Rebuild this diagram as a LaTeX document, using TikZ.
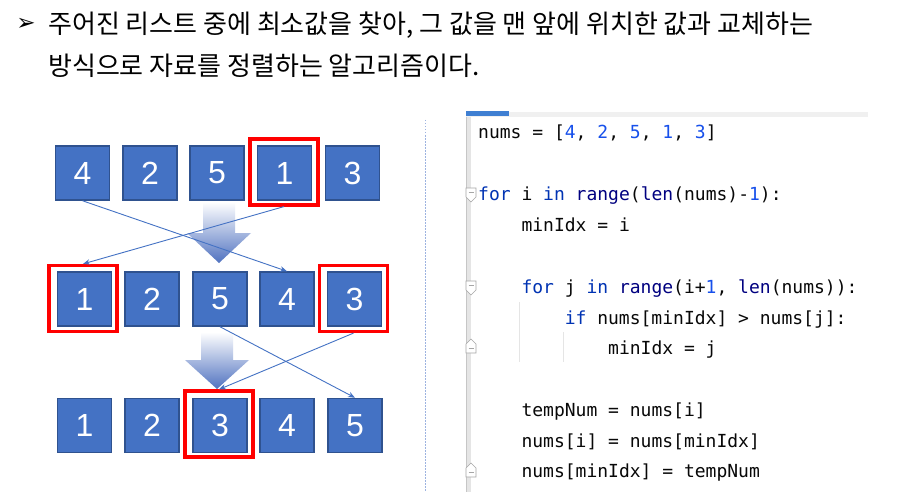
\documentclass[tikz,border=0pt]{standalone}
\usepackage{fontspec}
\setmainfont{Liberation Sans}
\newfontfamily\krfont{Noto Sans CJK KR}
\newfontfamily\djfont{DejaVu Sans}
\newfontfamily\codefont{DejaVu Sans Mono}
\usetikzlibrary{arrows.meta}
\definecolor{boxblue}{HTML}{4472C4}
\definecolor{boxedge}{HTML}{2F528F}
\definecolor{arrowblue}{HTML}{5072C0}
\definecolor{kw}{HTML}{0033B3}
\definecolor{num}{HTML}{1750EB}
\definecolor{bi}{HTML}{000080}
\definecolor{codeblack}{HTML}{080808}
\definecolor{tabblue}{HTML}{3F7FD2}
\definecolor{sepblue}{HTML}{9DB3E0}
\tikzset{
  numbox/.style={draw=boxedge, fill=boxblue, line width=1.5pt, minimum size=54pt, inner sep=0pt, text=white, font=\fontsize{32}{32}\selectfont},
  redframe/.style={draw=red, line width=3.2pt, minimum width=68pt, minimum height=66pt, inner sep=0pt},
  link/.style={draw=boxblue, line width=0.9pt, -{Stealth[length=7pt,width=5.5pt]}},
  bigarrow/.style={top color=white, bottom color=arrowblue, draw=none},
  code/.style={anchor=base west, inner sep=0pt, font=\codefont\fontsize{18}{18}\selectfont, text=codeblack},
  head/.style={anchor=base west, inner sep=0pt, font=\krfont\fontsize{26}{26}\selectfont},
  foldmark/.style={draw=gray!70, fill=white, line width=0.6pt},
}
\newcommand{\kwd}[1]{\textcolor{kw}{#1}}
\newcommand{\nm}[1]{\textcolor{num}{#1}}
\newcommand{\bif}[1]{\textcolor{bi}{#1}}
\begin{document}
\begin{tikzpicture}[x=1pt,y=-1pt]
\useasboundingbox (0,0) rectangle (907,492);
\fill[white] (0,0) rectangle (907,492);
% header
\node[font=\djfont\fontsize{23}{23}\selectfont, inner sep=0pt] (bul) at (26,24.5) {➢};
\node[head] (t1) at (48,34) {주어진 리스트 중에 최소값을 찾아, 그 값을 맨 앞에 위치한 값과 교체하는};
\node[head] (t2) at (48,76) {방식으로 자료를 정렬하는 알고리즘이다.};
% big gradient arrows
\path[bigarrow] (203,202) -- (235,202) -- (235,233) -- (251,233) -- (219,263) -- (187,233) -- (203,233) -- cycle;
\path[bigarrow] (201,332) -- (233,332) -- (233,360) -- (249,360) -- (217,389) -- (185,360) -- (201,360) -- cycle;
% row 1
\node[numbox] (r1a) at (82.5,173) {4};
\node[numbox] (r1b) at (150,173) {2};
\node[numbox] (r1c) at (217,173) {5};
\node[numbox] (r1d) at (284.5,173) {1};
\node[numbox] (r1e) at (352.5,173) {3};
% row 2
\node[numbox] (r2a) at (84.5,299) {1};
\node[numbox] (r2b) at (152,299) {2};
\node[numbox] (r2c) at (220,299) {5};
\node[numbox] (r2d) at (287,299) {4};
\node[numbox] (r2e) at (354.5,299) {3};
% row 3
\node[numbox] (r3a) at (84.5,425.5) {1};
\node[numbox] (r3b) at (152,425.5) {2};
\node[numbox] (r3c) at (220,425.5) {3};
\node[numbox] (r3d) at (287,425.5) {4};
\node[numbox] (r3e) at (355,425.5) {5};
% red frames
\node[redframe] (f1) at (284,172) {};
\node[redframe] (f2) at (83,298.5) {};
\node[redframe] (f3) at (353.5,298.5) {};
\node[redframe] (f4) at (219,424) {};
% swap lines
\draw[link] (r1a.south) -- (r2d.north);
\draw[link] (f1.south) -- (f2.north);
\draw[link] (r2c.south) -- (r3e.north);
\draw[link] (f3.south) -- (f4.north);
% separator
\draw[sepblue, line width=0.8pt, dash pattern=on 1.5pt off 1.5pt] (425,120) -- (425,492);
% code panel chrome
\fill[gray!12] (466,112) rectangle (868,117);
\fill[tabblue] (466,111.5) rectangle (509,116);
\fill[gray!20] (466,117) rectangle (471,492);
\draw[gray!45, line width=0.5pt] (466,117) -- (466,492);
\draw[gray!20, line width=0.8pt] (519,302) -- (519,362);
\draw[gray!20, line width=0.8pt] (563,332) -- (563,362);
\path[foldmark] (466,188) -- (476,188) -- (476,197) -- (471,202) -- (466,197) -- cycle;
\draw[gray!70, line width=0.6pt] (468.5,192.5) -- (473.5,192.5);
\path[foldmark] (466,281) -- (476,281) -- (476,290) -- (471,295) -- (466,290) -- cycle;
\draw[gray!70, line width=0.6pt] (468.5,285.5) -- (473.5,285.5);
\path[foldmark] (466,353) -- (476,353) -- (476,344) -- (471,339) -- (466,344) -- cycle;
\draw[gray!70, line width=0.6pt] (468.5,348.5) -- (473.5,348.5);
\path[foldmark] (466,477) -- (476,477) -- (476,468) -- (471,463) -- (466,468) -- cycle;
\draw[gray!70, line width=0.6pt] (468.5,472.5) -- (473.5,472.5);
% code
\node[code] (c1) at (478,139) {nums = [\nm{4}, \nm{2}, \nm{5}, \nm{1}, \nm{3}]};
\node[code] (c3) at (478,200.6) {\kwd{for} i \kwd{in} \bif{range}(\bif{len}(nums)-\nm{1}):};
\node[code] (c4) at (521.3,231.4) {minIdx = i};
\node[code] (c6) at (521.3,293) {\kwd{for} j \kwd{in} \bif{range}(i+\nm{1}, \bif{len}(nums)):};
\node[code] (c7) at (564.6,324) {\kwd{if} nums[minIdx] > nums[j]:};
\node[code] (c8) at (608,354.6) {minIdx = j};
\node[code] (c10) at (521.3,416) {tempNum = nums[i]};
\node[code] (c11) at (521.3,447) {nums[i] = nums[minIdx]};
\node[code] (c12) at (521.3,477.5) {nums[minIdx] = tempNum};
\end{tikzpicture}
\end{document}
